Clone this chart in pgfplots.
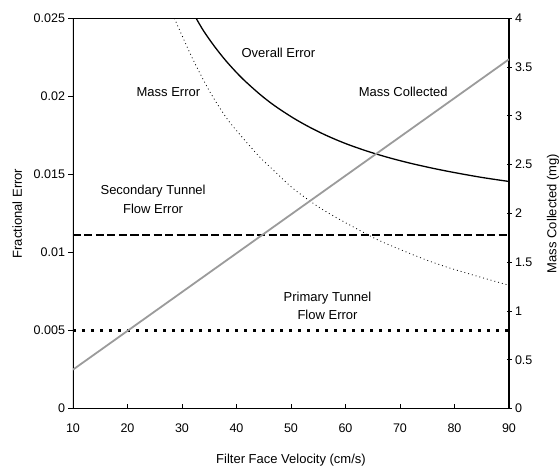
\documentclass[border=0pt]{standalone}
\usepackage{pgfplots}
\pgfplotsset{compat=1.18}
\usepackage{fontspec}
\setmainfont{Liberation Sans}
\definecolor{massgray}{RGB}{155,155,155}
\begin{document}
\begin{tikzpicture}
\useasboundingbox (0,0) rectangle (560pt,470pt);
\begin{axis}[
  at={(73pt,61.3pt)}, anchor=south west,
  scale only axis, width=436pt, height=390.4pt,
  xmin=10, xmax=90, ymin=0, ymax=0.025,
  scaled y ticks=false,
  xtick={10,20,...,90},
  ytick={0,0.005,0.01,0.015,0.02,0.025},
  yticklabels={0,0.005,0.01,0.015,0.02,0.025},
  xtick pos=bottom, ytick pos=left,
  xtick align=inside, ytick align=outside,
  major tick length=4.5pt,
  tick style={black, line width=0.8pt},
  axis line style={line width=0.6pt},
  ticklabel style={font=\fontsize{12.5}{14}\selectfont},
  /pgf/number format/assume math mode=true,
  xticklabel style={yshift=-12pt},
  xlabel={Filter Face Velocity (cm/s)},
  ylabel={Fractional Error},
  label style={font=\fontsize{13}{15}\selectfont},
  xlabel style={at={(axis description cs:0.5,-0.131)}, anchor=center},
  ylabel style={at={(axis description cs:-0.128,0.5)}, anchor=center},
]
\draw[line width=1.3pt] (rel axis cs:0,1) -- (rel axis cs:0,0) -- (rel axis cs:1,0);
% Secondary tunnel flow error
\addplot[black, line width=1.8pt, dash pattern=on 8pt off 3.5pt] coordinates {(10,0.0111) (90,0.0111)};
% Primary tunnel flow error
\addplot[black, line width=2.6pt, dash pattern=on 3pt off 6pt] coordinates {(10,0.005) (90,0.005)};
% Mass error
\addplot[black, line width=0.8pt, dash pattern=on 0.9pt off 3pt, smooth] coordinates {
(28.6,0.0250) (30,0.0239) (32.1,0.0223) (35.1,0.0203) (38.2,0.0186) (41,0.0174)
(44.3,0.0161) (47,0.0152) (50.4,0.0141) (54.7,0.0130) (58,0.0123) (62.7,0.0114)
(66,0.0108) (70,0.0102) (75,0.0095) (79.2,0.0090) (84,0.0085) (90,0.0079)};
% Overall error
\addplot[black, line width=1.3pt, smooth] coordinates {
(32.6,0.02500) (34,0.02417) (36,0.02318) (38.2,0.02222) (41,0.02117) (44.3,0.02013)
(47,0.01940) (50.4,0.01862) (53.5,0.01801) (56.6,0.01748) (60,0.01698) (63.9,0.01650)
(68,0.01607) (72,0.01571) (76.1,0.01539) (80,0.01512) (85,0.01481) (90,0.01455)};
\node[font=\fontsize{13}{15}\selectfont] at (axis cs:47.7,0.02276) {Overall Error};
\node[font=\fontsize{13}{15}\selectfont] at (axis cs:27.5,0.0203) {Mass Error};
\node[font=\fontsize{13}{15}\selectfont] at (axis cs:70.6,0.0203) {Mass Collected};
\node[font=\fontsize{13}{19}\selectfont, align=center] at (axis cs:24.7,0.01338) {Secondary Tunnel\\Flow Error};
\node[font=\fontsize{13}{18}\selectfont, align=center] at (axis cs:56.7,0.00658) {Primary Tunnel\\Flow Error};
\end{axis}
\begin{axis}[
  at={(73pt,61.3pt)}, anchor=south west,
  scale only axis, width=436pt, height=390.4pt,
  xmin=10, xmax=90, ymin=0, ymax=4,
  axis x line=none, axis y line*=right,
  ytick={0,0.5,...,4},
  ytick align=center,
  major tick length=5pt,
  tick style={black, line width=0.8pt},
  axis line style={line width=1.3pt},
  ticklabel style={font=\fontsize{12.5}{14}\selectfont},
  /pgf/number format/assume math mode=true,
  ylabel={Mass Collected (mg)},
  label style={font=\fontsize{13}{15}\selectfont},
  ylabel style={at={(axis description cs:1.101,0.5)}, anchor=center},
]
\addplot[massgray, line width=1.8pt] coordinates {(10,0.4) (90,3.58)};
\end{axis}
\end{tikzpicture}
\end{document}
